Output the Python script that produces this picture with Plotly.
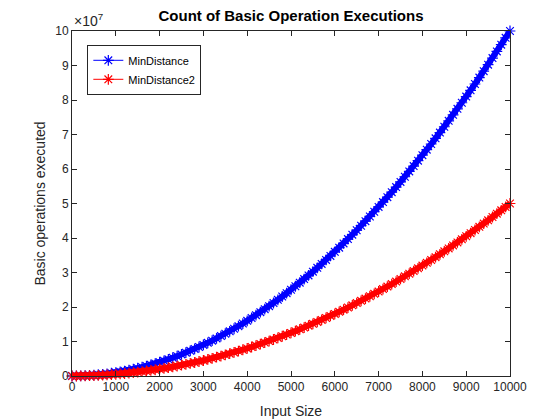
import plotly.graph_objects as go

# Input sizes (every 100 from 0 to 10000)
input_size = list(range(0, 10001, 100))

# Basic operation counts, in units of 10^7
min_distance = [
    0, 0.001, 0.004, 0.009, 0.016, 0.025, 0.036, 0.049, 0.064, 0.081,
    0.1, 0.121, 0.144, 0.169, 0.196, 0.225, 0.256, 0.289, 0.324, 0.361,
    0.4, 0.441, 0.484, 0.529, 0.576, 0.625, 0.676, 0.729, 0.784, 0.841,
    0.9, 0.961, 1.024, 1.089, 1.156, 1.225, 1.296, 1.369, 1.444, 1.521,
    1.6, 1.681, 1.764, 1.849, 1.936, 2.025, 2.116, 2.209, 2.304, 2.401,
    2.5, 2.601, 2.704, 2.809, 2.916, 3.025, 3.136, 3.249, 3.364, 3.481,
    3.6, 3.721, 3.844, 3.969, 4.096, 4.225, 4.356, 4.489, 4.624, 4.761,
    4.9, 5.041, 5.184, 5.329, 5.476, 5.625, 5.776, 5.929, 6.084, 6.241,
    6.4, 6.561, 6.724, 6.889, 7.056, 7.225, 7.396, 7.569, 7.744, 7.921,
    8.1, 8.281, 8.464, 8.649, 8.836, 9.025, 9.216, 9.409, 9.604, 9.801,
    10.0,
]
min_distance2 = [
    0, 0.0005, 0.002, 0.0045, 0.008, 0.0125, 0.018, 0.0245, 0.032, 0.0405,
    0.05, 0.0605, 0.072, 0.0845, 0.098, 0.1125, 0.128, 0.1445, 0.162, 0.1805,
    0.2, 0.2205, 0.242, 0.2645, 0.288, 0.3125, 0.338, 0.3645, 0.392, 0.4205,
    0.45, 0.4805, 0.512, 0.5445, 0.578, 0.6125, 0.648, 0.6845, 0.722, 0.7605,
    0.8, 0.8405, 0.882, 0.9245, 0.968, 1.0125, 1.058, 1.1045, 1.152, 1.2005,
    1.25, 1.3005, 1.352, 1.4045, 1.458, 1.5125, 1.568, 1.6245, 1.682, 1.7405,
    1.8, 1.8605, 1.922, 1.9845, 2.048, 2.1125, 2.178, 2.2445, 2.312, 2.3805,
    2.45, 2.5205, 2.592, 2.6645, 2.738, 2.8125, 2.888, 2.9645, 3.042, 3.1205,
    3.2, 3.2805, 3.362, 3.4445, 3.528, 3.6125, 3.698, 3.7845, 3.872, 3.9605,
    4.05, 4.1405, 4.232, 4.3245, 4.418, 4.5125, 4.608, 4.7045, 4.802, 4.9005,
    5.0,
]

x_ticks = list(range(0, 10001, 1000))
x_labels = [str(v) for v in x_ticks]
y_ticks = list(range(0, 11))

fig = go.Figure()

for name, vals, col in [('MinDistance', min_distance, '#0000ff'),
                        ('MinDistance2', min_distance2, '#ff0000')]:
    # dense markers in the original merge into a solid band
    fig.add_trace(go.Scatter(
        x=input_size, y=vals, mode='lines', showlegend=False, hoverinfo='skip',
        line=dict(color=col, width=6), cliponaxis=False,
    ))
    fig.add_trace(go.Scatter(
        x=input_size, y=vals, name=name, mode='lines+markers',
        line=dict(color=col, width=1),
        marker=dict(symbol='asterisk-open', size=9, color=col,
                    line=dict(color=col, width=1.2)),
        cliponaxis=False,
    ))

axis_style = dict(
    showline=True, linecolor='#262626', linewidth=1, mirror='ticks',
    ticks='inside', ticklen=5, tickcolor='#262626', showgrid=False,
    zeroline=False, tickfont=dict(size=12, color='#262626'), automargin=False,
)

# page body has an 8px margin, so margins are shifted to compensate
fig.update_layout(
    width=560, height=420,
    paper_bgcolor='white', plot_bgcolor='white',
    font=dict(family='Liberation Sans, Arial', color='#262626'),
    margin=dict(l=64, r=58, t=23, b=52),
    title=dict(text='<b>Count of Basic Operation Executions</b>',
               x=0.5, xanchor='center', xref='paper',
               y=1, yref='container', yanchor='top', pad=dict(t=2),
               font=dict(size=15, color='black')),
    xaxis=dict(range=[0, 10000], tickvals=x_ticks, ticktext=x_labels,
               title=dict(text='Input Size', font=dict(size=14), standoff=12),
               **axis_style),
    yaxis=dict(range=[0, 10], tickvals=y_ticks,
               title=dict(text='Basic operations executed', font=dict(size=14), standoff=6),
               **axis_style),
    legend=dict(x=0.035, y=0.96, xanchor='left', yanchor='top',
                bgcolor='white', bordercolor='#262626', borderwidth=1,
                font=dict(size=11, color='black'), tracegroupgap=0,
                itemwidth=30),
    showlegend=True,
)

fig.add_annotation(text='\u00d710<sup>7</sup>', xref='paper', yref='paper',
                   x=0, y=1, xanchor='left', yanchor='bottom', showarrow=False,
                   font=dict(size=14, color='#262626'), yshift=0)

fig.write_html("out.html")
